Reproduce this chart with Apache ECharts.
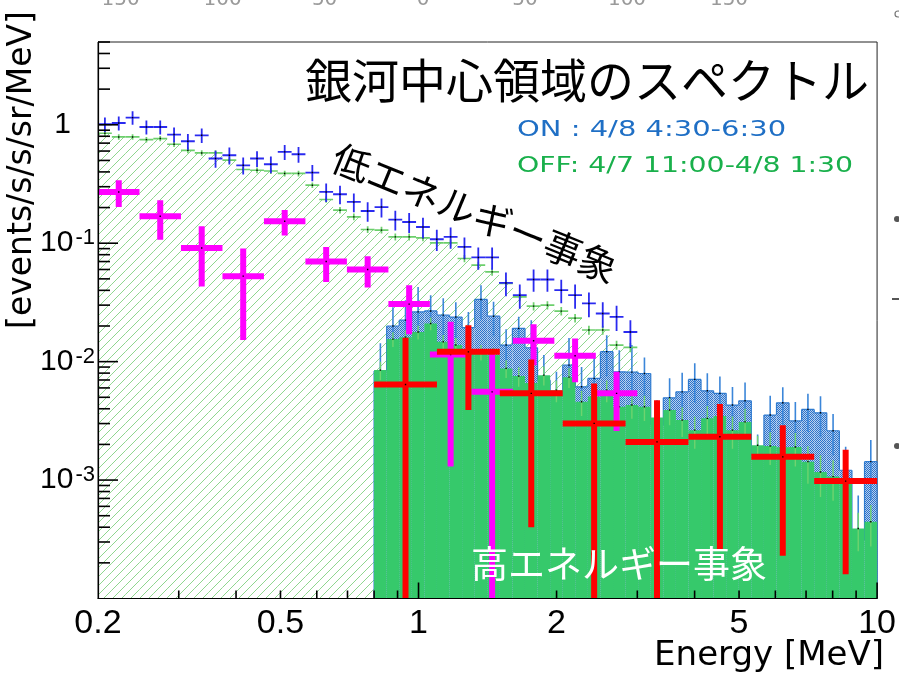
<!DOCTYPE html>
<html><head><meta charset="utf-8">
<script src="https://cdn.jsdelivr.net/npm/echarts@6/dist/echarts.min.js"></script>
<style>html,body{margin:0;padding:0;background:#fff}#c{width:899px;height:678px}</style>
</head><body><div id="c"></div><script>
// ---------------- data ----------------
const lowRange = [0.2, 3.0];   // MeV, low-energy histogram range
const lowBinCount = 39;
const highRange = [0.8, 10];   // MeV, high-energy histogram range
const highBinCount = 40;
const lowRebin = 3, highRebin = 5;

// low-energy ON (blue crosses)
const lowOn = [1.01,1.035,1.15,0.958,0.958,0.827,0.726,0.815,0.519,0.553,0.455,0.519,0.464,0.59,0.564,0.395,0.271,0.259,0.223,0.187,0.202,0.158,0.151,0.137,0.108,0.113,0.093,0.0758,0.0758,0.0462,0.0364,0.0494,0.0494,0.0401,0.0364,0.031,0.0255,0.0239,0.0178];
const lowOnErr = [0.14,0.14,0.15,0.13,0.13,0.12,0.11,0.115,0.085,0.09,0.075,0.08,0.075,0.085,0.085,0.062,0.048,0.046,0.04,0.035,0.037,0.03,0.029,0.027,0.022,0.023,0.019,0.016,0.016,0.0105,0.0085,0.0105,0.0105,0.009,0.0085,0.0073,0.0062,0.0058,0.0046];
// low-energy OFF (green hatched)
const lowOff = [0.848,0.789,0.789,0.75,0.765,0.685,0.609,0.578,0.578,0.502,0.419,0.413,0.407,0.388,0.388,0.309,0.234,0.19,0.167,0.1305,0.129,0.113,0.113,0.111,0.1006,0.1006,0.0743,0.0652,0.0573,0.0457,0.0352,0.0294,0.030,0.0267,0.0233,0.0185,0.0185,0.0138,0.0132];
const lowOffErr = [0.045,0.042,0.042,0.04,0.04,0.036,0.033,0.031,0.031,0.027,0.023,0.023,0.023,0.022,0.022,0.017,0.014,0.012,0.011,0.0085,0.0085,0.0075,0.0075,0.0073,0.0068,0.0068,0.0052,0.0047,0.0042,0.0035,0.0028,0.0024,0.0024,0.0022,0.0019,0.0016,0.0016,0.0012,0.0012];
// high-energy ON (blue dotted)
const highOn = [0.00832,0.0200,0.0224,0.0263,0.0268,0.0247,0.0238,0.0194,0.0335,0.0242,0.0138,0.0191,0.0131,0.00698,0.00522,0.00934,0.00613,0.00722,0.01214,0.0082,0.00815,0.00794,0.00291,0.00495,0.00556,0.00708,0.00567,0.0054,0.0043,0.00467,0.00163,0.00354,0.00449,0.00316,0.00395,0.0037,0.00261,0.00121,0.000312,0.00143];
const highOnErr = [0.0060,0.0088,0.0106,0.0163,0.0096,0.0096,0.008,0.0069,0.0107,0.0078,0.005,0.0048,0.0093,0.0044,0.003,0.0065,0.0029,0.0041,0.0046,0.0043,0.0057,0.0029,0.0018,0.0023,0.0025,0.0026,0.0023,0.0021,0.0018,0.002,0.0008,0.0016,0.0016,0.0014,0.0014,0.0014,0.001,0.0007,0.00043,0.00075];
// high-energy OFF (solid green)
const highOff = [0.00848,0.0155,0.0161,0.0178,0.0210,0.0147,0.0138,0.0125,0.012,0.01135,0.00877,0.00755,0.00659,0.00769,0.00574,0.0074,0.00458,0.00508,0.00574,0.00416,0.0043,0.00416,0.00338,0.0039,0.00321,0.00264,0.00332,0.00347,0.00264,0.0031,0.00197,0.00194,0.00189,0.0019,0.00143,0.00117,0.00107,0.00099,0.00039,0.000445];
const highOffErr = [0.0015,0.0022,0.0023,0.0024,0.0026,0.0021,0.002,0.0019,0.0018,0.0017,0.0015,0.0014,0.0013,0.0014,0.0012,0.0014,0.0011,0.0011,0.0012,0.001,0.001,0.001,0.0009,0.001,0.0009,0.0008,0.0009,0.0009,0.0008,0.0009,0.0004,0.0006,0.0006,0.0006,0.0005,0.00045,0.0004,0.0004,0.00014,0.00017];
// ON-OFF differences
const diffLow = [0.271,0.169,0.0912,0.0527,0.1534,0.0701,0.06,0.0306,0.0115,0.00556,0.015,0.0112,0.0054];
const diffLowErr = [0.069,0.062,0.048,0.0375,0.037,0.023,0.0177,0.0136,0.0102,0.0069,0.0057,0.0045,0.0028];
const diffHigh = [0.00642,0.0121,0.0054,0.00301,0.0021,0.00232,0.00157,0.00098];
const diffHighErr = [0.0095,0.0082,0.005,0.00354,0.00263,0.00206,0.00134,0.00082];
// axes
const xLabelValues = [0.2, 0.5, 1, 2, 5, 10];
const xMajorTicks = [1, 10];
const xMinorTicks = [0.3,0.4,0.5,0.6,0.7,0.8,0.9,2,3,4,5,6,7,8,9];
const yLabelValues = [0.001, 0.01, 0.1, 1];
const yMajorTicks = [0.001, 0.01, 0.1, 1];
const yMinorTicks = [2e-4,3e-4,4e-4,5e-4,6e-4,7e-4,8e-4,9e-4,2e-3,3e-3,4e-3,5e-3,6e-3,7e-3,8e-3,9e-3,0.02,0.03,0.04,0.05,0.06,0.07,0.08,0.09,0.2,0.3,0.4,0.5,0.6,0.7,0.8,0.9,2,3,4,5];
const X_MIN = 0.2, X_MAX = 10, Y_MIN = 1e-4, Y_MAX = 5;
const topCutLabels = ['-150','-100','-50','0','50','100','150'];

// ---------------- helpers ----------------
function logEdges(a, b, n) { const e = []; for (let i = 0; i <= n; i++) e.push(a * Math.pow(b / a, i / n)); return e; }
const lowEdges = logEdges(lowRange[0], lowRange[1], lowBinCount);
const highEdges = logEdges(highRange[0], highRange[1], highBinCount);
const lowEdgesRebin = lowEdges.filter((_, i) => i % lowRebin === 0);
const highEdgesRebin = highEdges.filter((_, i) => i % highRebin === 0);

function makeHatch() {
  const p = 9, c = document.createElement('canvas'); c.width = p; c.height = p;
  const g = c.getContext('2d');
  g.fillStyle = '#ffffff'; g.fillRect(0, 0, p, p);
  g.strokeStyle = '#8fd68f'; g.lineWidth = 1;
  g.beginPath();
  g.moveTo(0, p); g.lineTo(p, 0);
  g.moveTo(-1, 1); g.lineTo(1, -1);
  g.moveTo(p - 1, p + 1); g.lineTo(p + 1, p - 1);
  g.stroke();
  return c;
}
function makeChecker() {
  const c = document.createElement('canvas'); c.width = 2; c.height = 2;
  const g = c.getContext('2d');
  g.fillStyle = '#b5d0f0'; g.fillRect(0, 0, 2, 2);
  g.fillStyle = '#2f72c8'; g.fillRect(0, 0, 1, 1); g.fillRect(1, 1, 1, 1);
  return c;
}
const hatchFill = { image: makeHatch(), repeat: 'repeat' };
const checkerFill = { image: makeChecker(), repeat: 'repeat' };

function histSeries(name, edges, vals, fill, stroke, z) {
  return {
    type: 'custom', name, z, silent: true, clip: true,
    data: vals.map((v, i) => [Math.sqrt(edges[i] * edges[i + 1]), v]),
    renderItem(params, api) {
      const i = params.dataIndex, v = vals[i];
      const a = api.coord([edges[i], v]), b = api.coord([edges[i + 1], Y_MIN]);
      const ch = [{ type: 'rect', shape: { x: a[0], y: a[1], width: b[0] - a[0], height: b[1] - a[1] }, style: { fill } }];
      if (stroke) {
        ch.push({ type: 'line', shape: { x1: a[0], y1: a[1], x2: b[0], y2: a[1] }, style: { stroke, lineWidth: 1.2 } });
        const prev = i > 0 ? api.coord([edges[i], vals[i - 1]])[1] : b[1];
        ch.push({ type: 'line', shape: { x1: a[0], y1: prev, x2: a[0], y2: a[1] }, style: { stroke, lineWidth: 1.2 } });
        if (i === vals.length - 1) ch.push({ type: 'line', shape: { x1: b[0], y1: a[1], x2: b[0], y2: b[1] }, style: { stroke, lineWidth: 1.2 } });
      }
      return { type: 'group', children: ch };
    }
  };
}
function crossSeries(name, edges, vals, errs, color, width, z, opts) {
  opts = opts || {};
  return {
    type: 'custom', name, z, silent: true, clip: true,
    data: vals.map((v, i) => [Math.sqrt(edges[i] * edges[i + 1]), v]),
    renderItem(params, api) {
      const i = params.dataIndex, v = vals[i], e = errs[i];
      const lo = edges[i], hi = edges[i + 1], c = Math.sqrt(lo * hi);
      const a = api.coord([lo, v]), b = api.coord([hi, v]);
      const t = api.coord([c, v + e]), d = api.coord([c, v - e > 0 ? v - e : 1e-7]);
      const ch = [];
      if (!opts.noH) ch.push({ type: 'line', shape: { x1: a[0], y1: a[1], x2: b[0], y2: b[1] }, style: { stroke: color, lineWidth: width } });
      ch.push({ type: 'line', shape: { x1: t[0], y1: t[1], x2: d[0], y2: d[1] }, style: { stroke: color, lineWidth: width } });
      ch.push({ type: 'rect', shape: { x: t[0] - 0.7, y: a[1] - 0.7, width: 1.4, height: 1.4 }, style: { fill: '#000' } });
      return { type: 'group', children: ch };
    }
  };
}
// axis tick marks drawn on a layer above the filled histograms (ROOT style, inside the frame)
function tickSeries(name, values, dir, len) {
  return {
    type: 'custom', name, zlevel: 1, z: 60, silent: true, clip: false,
    data: values.map(v => (dir === 'x' ? [v, Y_MIN] : [X_MIN, v])),
    renderItem(params, api) {
      const p = api.coord([api.value(0), api.value(1)]);
      const shape = dir === 'x' ? { x1: p[0], y1: p[1], x2: p[0], y2: p[1] - len } : { x1: p[0], y1: p[1], x2: p[0] + len, y2: p[1] };
      return { type: 'line', shape, style: { stroke: '#000', lineWidth: 1.6 } };
    }
  };
}

const baseFont = 'Liberation Sans';
function yLabelFmt(v) {
  const p = Math.round(Math.log10(v));
  if (p === 0) return '{b|1}{sp|}';
  return '{b|10}{s|' + p + '}';
}

const chart = echarts.init(document.getElementById('c'), null, { renderer: 'canvas' });
chart.setOption({
  backgroundColor: '#ffffff',
  animation: false,
  grid: { left: 98, top: 42, width: 780, height: 556.5, show: true, borderColor: '#222', borderWidth: 1, backgroundColor: 'transparent', containLabel: false },
  xAxis: { type: 'log', logBase: 10, min: X_MIN, max: X_MAX, position: 'bottom', zlevel: 1, z: 50,
      axisLine: { show: true, lineStyle: { color: '#000', width: 1.2 } },
      axisTick: { show: false },
      axisLabel: { show: true, customValues: xLabelValues, margin: 8, color: '#000', fontFamily: baseFont, fontSize: 34,
        formatter: v => (v < 1 ? v.toFixed(1) : String(Math.round(v))) },
      splitLine: { show: false }, minorTick: { show: false } },
  yAxis: { type: 'log', logBase: 10, min: Y_MIN, max: Y_MAX, position: 'left', zlevel: 1, z: 50,
      axisLine: { show: true, lineStyle: { color: '#000', width: 1.2 } },
      axisTick: { show: false },
      axisLabel: { show: true, customValues: yLabelValues, margin: 3, formatter: yLabelFmt,
        rich: {
          b: { fontFamily: baseFont, fontSize: 30, color: '#000', lineHeight: 32 },
          s: { fontFamily: baseFont, fontSize: 22, color: '#000', verticalAlign: 'top', lineHeight: 22, padding: [0, 0, 0, 2] },
          sp: { width: 24, fontSize: 22, lineHeight: 22 }
        } },
      splitLine: { show: false } },
  series: [
    histSeries('OFF low', lowEdges, lowOff, hatchFill, null, 1),
    histSeries('ON high', highEdges, highOn, checkerFill, '#2f7bd0', 2),
    crossSeries('ON high err', highEdges, highOn, highOnErr, '#3b86d9', 1.6, 3, { noH: true }),
    histSeries('OFF high', highEdges, highOff, '#36c96b', null, 4),
    crossSeries('OFF high err', highEdges, highOff, highOffErr, '#6fd36f', 1.4, 5, { noH: true }),
    crossSeries('OFF low pts', lowEdges, lowOff, lowOffErr, '#6ccf6c', 1.7, 6),
    crossSeries('ON low pts', lowEdges, lowOn, lowOnErr, '#2a2af0', 1.8, 7),
    crossSeries('ON-OFF low', lowEdgesRebin, diffLow, diffLowErr, '#ff00ff', 6, 8),
    crossSeries('ON-OFF high', highEdgesRebin, diffHigh, diffHighErr, '#ff0000', 6, 9),
    tickSeries('x major ticks', xMajorTicks, 'x', 16),
    tickSeries('x minor ticks', xMinorTicks, 'x', 8),
    tickSeries('y major ticks', yMajorTicks, 'y', 20),
    tickSeries('y minor ticks', yMinorTicks, 'y', 12)
  ],
  graphic: [
    { type: 'text', x: 869, y: 80, z: 100, style: { text: '銀河中心領域のスペクトル', font: '47px "Noto Sans CJK JP"', fill: '#000', textAlign: 'right', textVerticalAlign: 'middle' } },
    { type: 'text', x: 517, y: 131, z: 100, scaleX: 1.38, style: { text: 'ON : 4/8 4:30-6:30', font: '21px "DejaVu Sans"', fill: '#1f6fc5', textAlign: 'left', textVerticalAlign: 'middle' } },
    { type: 'text', x: 517, y: 167, z: 100, scaleX: 1.35, style: { text: 'OFF: 4/7 11:00-4/8 1:30', font: '21px "DejaVu Sans"', fill: '#19b04b', textAlign: 'left', textVerticalAlign: 'middle' } },
    { type: 'text', x: 475, y: 213, z: 100, rotation: -22.2 * Math.PI / 180, style: { text: '低エネルギー事象', font: '38px "Noto Sans CJK JP"', fill: '#000', textAlign: 'center', textVerticalAlign: 'middle' } },
    { type: 'text', x: 619, y: 564, z: 100, style: { text: '高エネルギー事象', font: '37px "Noto Sans CJK JP"', fill: '#fff', textAlign: 'center', textVerticalAlign: 'middle' } },
    { type: 'text', x: 22, y: 170, z: 100, rotation: Math.PI / 2, style: { text: '[events/s/s/sr/MeV]', font: '33px "DejaVu Sans"', fill: '#000', textAlign: 'center', textVerticalAlign: 'middle' } },
    { type: 'text', x: 884, y: 656, z: 100, style: { text: 'Energy [MeV]', font: '34px "DejaVu Sans"', fill: '#000', textAlign: 'right', textVerticalAlign: 'middle' } },
    { type: 'circle', z: 100, shape: { cx: 897, cy: 219, r: 3 }, style: { fill: '#555' } },
    { type: 'circle', z: 100, shape: { cx: 897, cy: 446, r: 3 }, style: { fill: '#555' } },
    { type: 'rect', z: 100, shape: { x: 892, y: 298, width: 7, height: 2 }, style: { fill: '#555' } },
    { type: 'circle', z: 100, shape: { cx: 898, cy: 14, r: 3 }, style: { fill: 'none', stroke: '#777', lineWidth: 1.2 } }
  ].concat(topCutLabels.map((t, i) => ({ type: 'text', x: 117 + i * 102, y: 10, z: 100,
      style: { text: t, font: '20px "DejaVu Sans"', fill: '#9a9a9a', textAlign: 'center', textVerticalAlign: 'bottom' } })))
});
</script></body></html>
